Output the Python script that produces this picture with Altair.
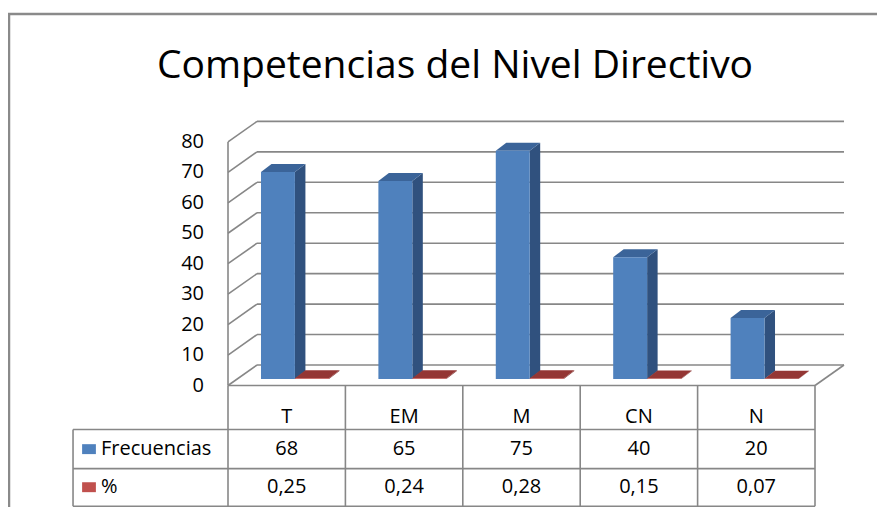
import altair as alt
import pandas as pd

# ---------------- data ----------------
categories = ["T", "EM", "M", "CN", "N"]
frecuencias = [68, 65, 75, 40, 20]
porcentajes = [0.25, 0.24, 0.28, 0.15, 0.07]
series_names = ["Frecuencias", "%"]
y_ticks = [0, 10, 20, 30, 40, 50, 60, 70, 80]
title_text = "Competencias del Nivel Directivo"

# ---------------- layout / style constants ----------------
W, H = 869, 499
CAT_PX = 117.4          # pixels per category
VAL_PX = 3.045          # pixels per value unit
X0 = 220.0              # plot x of category origin
Y0 = 377.5              # plot y of value 0 (front plane)
x_dom = [-X0 / CAT_PX, (W - X0) / CAT_PX]
y_dom = [-(H - Y0) / VAL_PX, Y0 / VAL_PX]
xs = alt.Scale(domain=x_dom, nice=False, zero=False)
ys = alt.Scale(domain=y_dom, nice=False, zero=False)

WDX, WDY = 29 / CAT_PX, 20.5 / VAL_PX     # wall depth
BDX, BDY = 10.5 / CAT_PX, 8 / VAL_PX      # bar depth
BASE = 6.5 / VAL_PX                       # bar base (inset from front floor)
BAR_POS = [(0.281, 0.570), (0.570, 0.860)]
FONT = "Open Sans"
FS = 20
GRID = "#878787"

face_domain = ["s0front", "s0side", "s0top", "s1front", "s1side", "s1top"]
face_range = ["#4F81BD", "#30517E", "#3B6499", "#C0504D", "#7E2C2A", "#943634"]
color = alt.Color("face:N", scale=alt.Scale(domain=face_domain, range=face_range), legend=None)

# ---------------- faces ----------------
front, side, top = [], [], []
for s, vals in enumerate([frecuencias, porcentajes]):
    b0, b1 = BAR_POS[s]
    for i, v in enumerate(vals):
        bid = f"{s}-{i}"
        front.append(dict(x=i + b0, x2=i + b1, y=BASE, y2=BASE + v, face=f"s{s}front"))
        side.append(dict(bid=bid, x=i + b1, y=BASE, y2=BASE + v, face=f"s{s}side"))
        side.append(dict(bid=bid, x=i + b1 + BDX, y=BASE + BDY, y2=BASE + v + BDY, face=f"s{s}side"))
        top.append(dict(bid=bid, y=BASE + v, x=i + b0, x2=i + b1, face=f"s{s}top"))
        top.append(dict(bid=bid, y=BASE + v + BDY, x=i + b0 + BDX, x2=i + b1 + BDX, face=f"s{s}top"))
front_df, side_df, top_df = pd.DataFrame(front), pd.DataFrame(side), pd.DataFrame(top)

# ---------------- grid / walls / floor ----------------
n = len(categories)
ymax = max(y_ticks)
grid = []
for t in y_ticks:
    grid.append(dict(x=WDX, x2=n + WDX, y=t + WDY, y2=t + WDY))   # back wall
    grid.append(dict(x=0, x2=WDX, y=t, y2=t + WDY))              # side wall
grid.append(dict(x=0, x2=0, y=0, y2=ymax))                       # wall front edge
grid.append(dict(x=0, x2=n, y=0, y2=0))                          # floor front edge
grid.append(dict(x=n, x2=n + WDX, y=0, y2=WDY))                  # floor right edge
grid_df = pd.DataFrame(grid)

# ---------------- data table ----------------
ROW_Y = [0, -14.45, -27.3, -39.65]
LEG_X = -1.32
tlines = []
for r in ROW_Y[1:]:
    tlines.append(dict(x=LEG_X, x2=n, y=r, y2=r))
for c in range(n + 1):
    tlines.append(dict(x=c, x2=c, y=ROW_Y[0], y2=ROW_Y[-1]))
tlines.append(dict(x=LEG_X, x2=LEG_X, y=ROW_Y[1], y2=ROW_Y[-1]))
tlines_df = pd.DataFrame(tlines)

cells = []
for i, c in enumerate(categories):
    cells.append(dict(x=i + 0.5, y=-10.3, t=c))
    cells.append(dict(x=i + 0.5, y=-20.9, t=str(frecuencias[i])))
    cells.append(dict(x=i + 0.5, y=-33.4, t=f"{porcentajes[i]:.2f}".replace(".", ",")))
cells_df = pd.DataFrame(cells)

leg_df = pd.DataFrame(dict(y=[-20.9, -33.4], t=series_names, face=["s0front", "s1front"]))
ticks_df = pd.DataFrame(dict(y=y_ticks, t=[str(v) for v in y_ticks]))
one = pd.DataFrame(dict(t=[title_text]))

X = lambda f="x": alt.X(f"{f}:Q", scale=xs, axis=None)
Y = lambda f="y": alt.Y(f"{f}:Q", scale=ys, axis=None, stack=None)

border = alt.Chart(one).mark_rect(fill=None, stroke="#8A8A8A", strokeWidth=2.5).encode(
    x=alt.value(1), x2=alt.value(W + 20), y=alt.value(6), y2=alt.value(H + 20))

title = alt.Chart(one).mark_text(font=FONT, fontSize=39, baseline="alphabetic", align="center",
                                 color="#000000").encode(
    x=alt.value(447), y=alt.value(70), text="t:N")

grid_layer = alt.Chart(grid_df).mark_rule(color=GRID, strokeWidth=1.6).encode(
    x=X(), x2="x2:Q", y=Y(), y2="y2:Q")

table_layer = alt.Chart(tlines_df).mark_rule(color=GRID, strokeWidth=1.6).encode(
    x=X(), x2="x2:Q", y=Y(), y2="y2:Q")

side_layer = alt.Chart(side_df).mark_area(orient="vertical", opacity=1).encode(
    x=X(), y=Y(), y2="y2:Q", detail="bid:N", color=color)

top_layer = alt.Chart(top_df).mark_area(orient="horizontal", opacity=1).encode(
    y=Y(), x=alt.X("x:Q", scale=xs, axis=None, stack=None), x2="x2:Q", detail="bid:N", color=color)

front_layer = alt.Chart(front_df).mark_rect().encode(
    x=X(), x2="x2:Q", y=Y(), y2="y2:Q", color=color)

tick_text = alt.Chart(ticks_df).mark_text(font=FONT, fontSize=FS, align="right", baseline="middle",
                                          color="#000000").encode(
    x=alt.value(196), y=Y(), text="t:N")

cell_text = alt.Chart(cells_df).mark_text(font=FONT, fontSize=FS, align="center", baseline="middle",
                                          color="#000000").encode(
    x=X(), y=Y(), text="t:N")

leg_sq = alt.Chart(leg_df).mark_point(shape="M-1,-0.72L1,-0.72L1,0.72L-1,0.72Z", size=190,
                                      filled=True, opacity=1).encode(
    x=alt.value(81), y=Y(), color=color)

leg_text = alt.Chart(leg_df).mark_text(font=FONT, fontSize=FS, align="left", baseline="middle",
                                       color="#000000").encode(
    x=alt.value(93), y=Y(), text="t:N")

chart = alt.layer(
    border, title, grid_layer, side_layer, top_layer, front_layer,
    table_layer, tick_text, cell_text, leg_sq, leg_text
).properties(
    width=W, height=H, padding=0, autosize=alt.AutoSizeParams(type="none")
).configure_view(stroke=None)

chart.save("out.html", embed_options={"renderer": "svg", "actions": False})
